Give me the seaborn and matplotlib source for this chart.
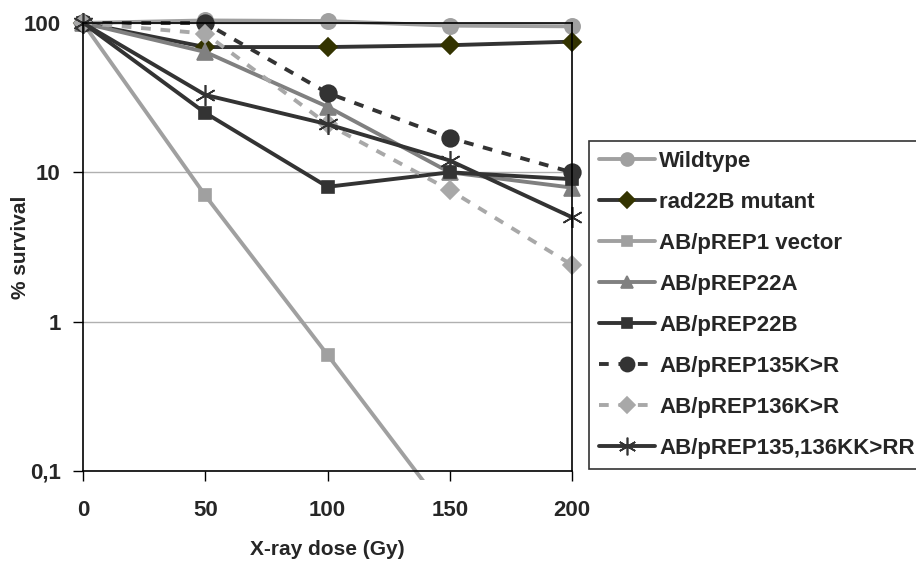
import numpy as np
import pandas as pd
import matplotlib
matplotlib.use("Agg")
import matplotlib.pyplot as plt
from matplotlib.transforms import Bbox, TransformedBbox
import seaborn as sns

sns.set_theme(style="white")
plt.rcParams['font.family'] = ['Liberation Sans', 'DejaVu Sans']
plt.rcParams['font.weight'] = 'bold'

doses = [0, 50, 100, 150, 200]
wildtype = [100, 104, 103, 96, 95]
rad22b = [100, 69, 69, 71, 75]
vector = [100, 7, 0.6, 0.05, np.nan]
p22a = [100, 64, 27.5, 10, 7.9]
p22b = [100, 25, 8, 10, 9]
p135 = [100, 100, 34, 17, 10]
p136 = [100, 85, 21, 7.6, 2.4]
p135_136 = [100, 33, 21, 12, 5]

labels = ["Wildtype", "rad22B mutant", "AB/pREP1 vector", "AB/pREP22A",
          "AB/pREP22B", "AB/pREP135K>R", "AB/pREP136K>R", "AB/pREP135,136KK>RR"]
series = [wildtype, rad22b, vector, p22a, p22b, p135, p136, p135_136]

yticks = [0.1, 1, 10, 100]
ytick_labels = ["0,1", "1", "10", "100"]
xticks = [0, 50, 100, 150, 200]

styles = [
    dict(color="#a0a0a0", marker="o", markersize=11, mfc="#a0a0a0", mec="#a0a0a0", linestyle="-"),
    dict(color="#333333", marker="D", markersize=9, mfc="#333300", mec="#333300", linestyle="-"),
    dict(color="#a0a0a0", marker="s", markersize=8, mfc="#a0a0a0", mec="#a0a0a0", linestyle="-"),
    dict(color="#808080", marker="^", markersize=11, mfc="#808080", mec="#808080", linestyle="-"),
    dict(color="#333333", marker="s", markersize=9, mfc="#333333", mec="#333333", linestyle="-"),
    dict(color="#333333", marker="o", markersize=12, mfc="#333333", mec="#333333", linestyle=(0, (2.5, 2.5))),
    dict(color="#a8a8a8", marker="D", markersize=9, mfc="#a8a8a8", mec="#a8a8a8", linestyle=(0, (2.5, 2.5))),
    dict(color="#333333", marker=(6, 2, 0), markersize=15, mfc="none", mec="#333333", linestyle="-"),
]

fig = plt.figure(figsize=(9.16, 5.65), dpi=100)
ax = fig.add_axes([83/916, 1-471/565, (572-83)/916, (471-23)/565])

# plot-area clip box slightly larger than the axes (like the original chart)
clip_box = TransformedBbox(Bbox([[-0.05, -0.02], [1.05, 1.05]]), ax.transAxes)

for lab, vals, st in zip(labels, series, styles):
    df = pd.DataFrame({"dose": doses, "survival": vals}).dropna()
    n_before = len(ax.lines)
    sns.lineplot(data=df, x="dose", y="survival", ax=ax, label=lab,
                 color=st["color"], marker=st["marker"], markersize=st["markersize"],
                 markerfacecolor=st["mfc"], markeredgecolor=st["mec"],
                 markeredgewidth=1.2, linewidth=2.8, linestyle=st["linestyle"],
                 errorbar=None, sort=False)
    for ln in ax.lines[n_before:]:
        ln.set_clip_box(clip_box)
        ln.set_clip_path(None)

ax.set_yscale("log")
ax.set_ylim(0.1, 100)
ax.set_xlim(0, 200)
ax.set_yticks(yticks)
ax.set_yticklabels(ytick_labels)
ax.set_xticks(xticks)
ax.set_xticklabels([str(x) for x in xticks])
ax.yaxis.set_minor_locator(matplotlib.ticker.NullLocator())
ax.tick_params(axis="both", which="major", direction="out", length=7, width=1,
               color="black", labelsize=16, left=True, bottom=True)
ax.tick_params(axis="y", pad=9)
ax.tick_params(axis="x", pad=14)
for lbl in ax.get_xticklabels() + ax.get_yticklabels():
    lbl.set_fontweight("bold")
ax.grid(True, axis="y", color="#b0b0b0", linewidth=1)
ax.set_axisbelow(True)
for sp in ax.spines.values():
    sp.set_color("black")
    sp.set_linewidth(1.2)
    sp.set_visible(True)

ax.set_xlabel("X-ray dose (Gy)", fontsize=15, fontweight="bold")
ax.set_ylabel("% survival", fontsize=15, fontweight="bold")
ax.xaxis.set_label_coords((327-83)/489, (471-540)/448)
ax.yaxis.set_label_coords((30-83)/489, 0.5)

leg = ax.legend(loc="lower left", bbox_to_anchor=(589/916, 1-469/565),
                bbox_transform=fig.transFigure, fontsize=16, frameon=True,
                fancybox=False, edgecolor="black", handlelength=2.5,
                labelspacing=0.9, borderpad=0.45, handletextpad=0.2,
                borderaxespad=0, markerscale=0.85)
leg.get_frame().set_linewidth(1.2)
for t in leg.get_texts():
    t.set_fontweight("bold")

fig.savefig("out.png", dpi=100)
